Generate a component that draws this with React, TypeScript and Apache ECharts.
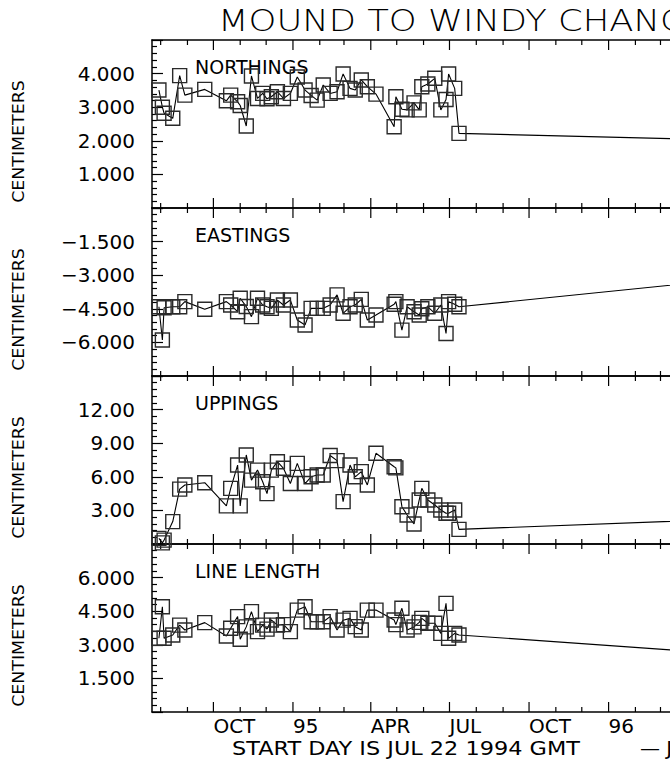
import React, { useEffect, useRef } from "react";
import * as echarts from "echarts";

// Days counted from the start day, JUL 22 1994 GMT
const START = Date.UTC(1994, 6, 22);
const DAY = 86400000;
const X_MAX = 599; // visible part of the time axis

const obsDays = [8, 12, 14, 24, 32, 38, 61, 86, 91, 99, 102, 109, 115, 122, 128, 133, 138, 145, 152, 160, 168, 177, 184, 191, 198, 206, 214, 221, 229, 235, 242, 249, 259, 280, 282, 289, 295, 303, 309, 312, 319, 327, 334, 340, 343, 350, 355, 700];

const northings = [3.51, 3.0, 2.82, 2.67, 3.94, 3.36, 3.53, 3.19, 3.36, 3.16, 3.05, 2.44, 3.93, 3.26, 3.41, 3.25, 3.31, 3.46, 3.26, 3.41, 3.9, 3.51, 3.35, 3.21, 3.66, 3.41, 3.46, 3.99, 3.56, 3.51, 3.81, 3.61, 3.39, 2.42, 3.31, 2.94, 2.92, 3.13, 2.92, 3.61, 3.69, 3.86, 2.92, 3.23, 3.99, 3.56, 2.22, 2.0];
const eastings = [-4.41, -5.89, -4.45, -4.41, -4.41, -4.18, -4.52, -4.18, -4.33, -4.63, -4.03, -4.4, -4.85, -4.03, -4.33, -4.41, -4.48, -4.11, -4.33, -4.11, -5.0, -5.22, -4.48, -4.48, -4.48, -4.33, -3.88, -4.7, -4.41, -4.33, -4.08, -5.0, -4.78, -4.3, -4.18, -5.45, -4.41, -4.63, -4.78, -4.5, -4.41, -4.7, -4.33, -5.6, -4.18, -4.3, -4.41, -3.05];
const uppings = [0.5, 0.1, 0.35, 2.0, 4.9, 5.27, 5.47, 3.4, 4.97, 7.05, 3.4, 7.95, 5.7, 6.6, 5.56, 4.5, 6.6, 7.35, 6.76, 5.4, 7.2, 5.4, 6.0, 6.16, 6.16, 7.9, 7.44, 3.78, 7.05, 6.0, 6.46, 5.27, 8.1, 6.9, 6.8, 3.33, 2.59, 1.79, 3.93, 4.97, 3.93, 3.48, 3.04, 2.74, 2.74, 3.04, 1.31, 2.32];
const lineLength = [3.29, 4.7, 3.29, 3.44, 3.88, 3.66, 3.99, 3.39, 3.74, 4.26, 3.25, 3.8, 4.48, 3.59, 3.88, 3.7, 4.11, 3.88, 3.9, 3.59, 4.55, 4.7, 4.03, 4.03, 4.03, 4.26, 3.66, 4.1, 4.18, 3.81, 3.66, 4.55, 4.55, 4.11, 3.9, 4.63, 3.66, 3.8, 4.0, 4.18, 3.96, 3.96, 3.51, 4.85, 3.29, 3.51, 3.44, 2.5];

const quarterLabels = ["OCT", "95", "APR", "JUL", "OCT", "96"];

const panelNames = ["NORTHINGS", "EASTINGS", "UPPINGS", "LINE LENGTH"];
const panelSeries = [northings, eastings, uppings, lineLength];
const yMins = [0, -7.5, 0, 0];
const yMaxs = [5, 0, 15, 7.5];
const yIntervals = [1, 1.5, 3, 1.5];
const yDigits = [3, 3, 2, 3];

const TITLE = "MOUND TO WINDY CHANGES";
const FOOT = "START DAY IS JUL 22 1994 GMT";
const FOOT2 = "— J";

// calendar ticks (first of each month), in days from the start day
const monthTicks: number[] = [];
const quarterFlags: number[] = [];
const quarterTicks: number[] = [];
for (let m = 7; m <= 30; m++) {
  const d = (Date.UTC(1994, m, 1) - START) / DAY;
  if (d > 0 && d < X_MAX) {
    monthTicks.push(d);
    quarterFlags.push(m % 3 === 0 ? 1 : 0);
    if (m % 3 === 0) quarterTicks.push(d);
  }
}

const PANEL_TOPS = [40, 208, 376, 544];
const PANEL_H = 168;
const LEFT = 152;
const WIDTH = 518;
const FONT = "DejaVu Sans";

function buildOption() {
  const grids: any[] = [];
  const xAxes: any[] = [];
  const yAxes: any[] = [];
  const series: any[] = [];
  const graphics: any[] = [];
  const frame = { color: "#000", width: 1.5 };
  const tickStyle = { color: "#000", width: 1.2 };

  panelNames.forEach((name, g) => {
    grids.push({
      left: LEFT,
      top: PANEL_TOPS[g],
      width: WIDTH,
      height: PANEL_H,
      outerBoundsMode: "none",
      show: false,
    });
    xAxes.push({
      type: "value",
      gridIndex: g,
      min: 0,
      max: X_MAX,
      position: "bottom",
      splitLine: { show: false },
      axisLine: { show: true, onZero: false, lineStyle: frame },
      axisTick: { show: false },
      axisLabel:
        g === 3
          ? {
              show: true,
              customValues: quarterTicks,
              align: "left",
              margin: 4,
              color: "#000",
              fontFamily: FONT,
              fontSize: 20,
              formatter: (v: number) => {
                const i = quarterTicks.findIndex((q) => Math.abs(q - v) < 0.5);
                return i >= 0 ? quarterLabels[i] : "";
              },
            }
          : { show: false },
    });
    xAxes.push({
      type: "value",
      gridIndex: g,
      min: 0,
      max: X_MAX,
      position: "top",
      splitLine: { show: false },
      axisLine: { show: true, onZero: false, lineStyle: frame },
      axisTick: { show: false },
      axisLabel: { show: false },
    });

    const digits = yDigits[g];
    yAxes.push({
      type: "value",
      gridIndex: g,
      position: "left",
      min: yMins[g],
      max: yMaxs[g],
      interval: yIntervals[g],
      axisLine: { show: true, onZero: false, lineStyle: frame },
      axisTick: { show: true, inside: true, length: 11, lineStyle: tickStyle },
      minorTick: { show: true, splitNumber: 5, length: 5, lineStyle: tickStyle },
      splitLine: { show: false },
      axisLabel: {
        showMinLabel: false,
        showMaxLabel: false,
        margin: 17,
        color: "#000",
        fontFamily: FONT,
        fontSize: 20,
        verticalAlign: "middle",
        padding: [0, 0, 14, 0],
        formatter: (v: number) => (v < 0 ? "\u2212" : "") + Math.abs(v).toFixed(digits),
      },
    });

    // month ticks on the top and bottom edges, placed through the axis scales
    const yLo = yMins[g];
    const yHi = yMaxs[g];
    series.push({
      type: "custom",
      xAxisIndex: g * 2,
      yAxisIndex: g,
      silent: true,
      clip: false,
      data: monthTicks.map((d, i) => [d, quarterFlags[i]]),
      renderItem: (params: any, api: any) => {
        const pb = api.coord([api.value(0), yLo]);
        const pt = api.coord([api.value(0), yHi]);
        const len = api.value(1) ? 10 : 5;
        return {
          type: "group",
          children: [
            { type: "line", shape: { x1: pt[0], y1: pt[1], x2: pt[0], y2: pt[1] + len }, style: { stroke: "#000", lineWidth: 1.2 } },
            { type: "line", shape: { x1: pb[0], y1: pb[1], x2: pb[0], y2: pb[1] - len }, style: { stroke: "#000", lineWidth: 1.2 } },
          ],
        };
      },
      z: 2,
    });

    series.push({
      type: "line",
      xAxisIndex: g * 2,
      yAxisIndex: g,
      data: obsDays.map((d, i) => [d, panelSeries[g][i]]),
      symbol: "rect",
      symbolSize: 14,
      showAllSymbol: true,
      clip: true,
      lineStyle: { color: "#000", width: 1.1 },
      itemStyle: { color: "transparent", borderColor: "#2a2a2a", borderWidth: 1.4 },
      emphasis: { disabled: true },
      z: 3,
    });

    graphics.push({
      type: "text",
      x: 195,
      y: PANEL_TOPS[g] + 26.5,
      style: {
        text: name,
        fontFamily: FONT,
        fontSize: 19,
        fill: "#000",
        align: "left",
        verticalAlign: "middle",
        textAlign: "left",
        textVerticalAlign: "middle",
      },
    });
    graphics.push({
      type: "text",
      x: 19,
      y: PANEL_TOPS[g] + 101.5,
      rotation: Math.PI / 2,
      scaleX: 1.16,
      style: {
        text: "CENTIMETERS",
        fontFamily: FONT,
        fontSize: 15,
        fill: "#000",
        align: "center",
        verticalAlign: "middle",
        textAlign: "center",
        textVerticalAlign: "middle",
      },
    });
  });

  graphics.push({
    type: "text",
    x: 218,
    y: 21,
    scaleX: 1.18,
    style: {
      text: TITLE,
      fontFamily: FONT,
      fontSize: 30,
      fontWeight: 200,
      fill: "#000",
      align: "left",
      verticalAlign: "middle",
      textAlign: "left",
      textVerticalAlign: "middle",
    },
  });
  graphics.push({
    type: "text",
    x: 232,
    y: 748,
    scaleX: 1.12,
    style: {
      text: FOOT,
      fontFamily: FONT,
      fontSize: 20,
      fill: "#000",
      align: "left",
      verticalAlign: "middle",
      textAlign: "left",
      textVerticalAlign: "middle",
    },
  });
  graphics.push({
    type: "text",
    x: 640,
    y: 748,
    style: {
      text: FOOT2,
      fontFamily: FONT,
      fontSize: 20,
      fill: "#000",
      align: "left",
      verticalAlign: "middle",
      textAlign: "left",
      textVerticalAlign: "middle",
    },
  });

  return {
    animation: false,
    backgroundColor: "#fff",
    grid: grids,
    xAxis: xAxes,
    yAxis: yAxes,
    series,
    graphic: graphics,
  };
}

export default function App() {
  const ref = useRef<HTMLDivElement>(null);
  useEffect(() => {
    if (!ref.current) return;
    document.body.style.margin = "0";
    document.body.style.overflow = "hidden";
    const chart = echarts.init(ref.current, null, { renderer: "svg" });
    chart.setOption(buildOption() as any);
    return () => chart.dispose();
  }, []);
  return <div ref={ref} style={{ position: "fixed", left: 0, top: 0, width: 670, height: 762, background: "#fff" }} />;
}
